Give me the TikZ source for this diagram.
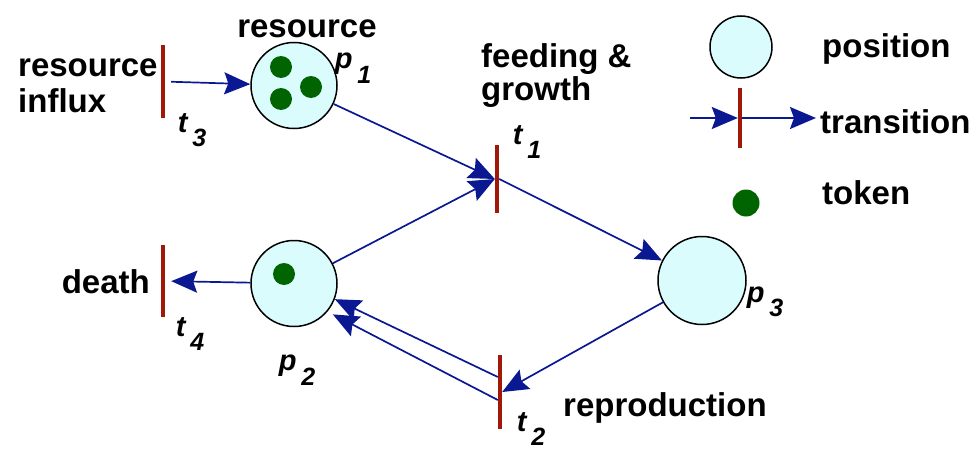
\documentclass[tikz,border=0pt]{standalone}
\usepackage{fontspec}
\setmainfont{Liberation Sans}
\usetikzlibrary{arrows.meta,calc}
\definecolor{arcblue}{RGB}{10,24,145}
\definecolor{barred}{RGB}{160,24,8}
\definecolor{placefill}{RGB}{218,252,252}
\definecolor{tokengreen}{RGB}{0,100,0}
\tikzset{
 place/.style={circle,draw=black,line width=1.5pt,fill=placefill,minimum size=86pt,inner sep=0pt},
 trans/.style={rectangle,fill=barred,minimum width=4pt,minimum height=72pt,inner sep=0pt},
 tok/.style={circle,fill=tokengreen,minimum size=22pt,inner sep=0pt},
 arc/.style={draw=arcblue,line width=1.7pt,-{Stealth[length=26pt,width=22pt,inset=4pt]}},
 lbl/.style={font=\fontsize{33}{36}\selectfont\bfseries,inner sep=0pt},
 sym/.style={font=\fontsize{29}{30}\selectfont\bfseries\itshape,inner sep=0pt},
}
\newcommand{\lab}[2]{#1\,\raisebox{-0.5em}{\fontsize{25}{25}\selectfont #2}}
\begin{document}
\begin{tikzpicture}[x=1pt,y=-1pt]
\useasboundingbox (0,0) rectangle (980,452);
% places and transitions
\node[trans,minimum height=73pt] (t3) at (163,81.5) {};
\node[place] (p1) at (294,85.5) {};
\node[tok] (k1) at (281,67) {};
\node[tok] (k2) at (281,99) {};
\node[tok] (k3) at (311,87) {};
\node[trans,minimum height=68pt] (t1) at (497,179) {};
\node[place] (p2) at (294,283.5) {};
\node[tok] (k4) at (284,274) {};
\node[trans] (t4) at (163,281) {};
\node[place,minimum size=88pt] (p3) at (702,280.5) {};
\node[trans,minimum height=74pt] (t2) at (500,392) {};
% arcs
\draw[arc,shorten <=6pt] (t3) -- (p1);
\draw[arc] (p1) -- (t1.west);
\draw[arc] (p2) -- (t1.west);
\draw[arc] (t1.east) -- (p3);
\draw[arc] (p3) -- (t2.east);
\draw[arc] ([yshift=15pt]t2.west) -- (p2.-21);
\draw[arc,shorten >=6pt] ([yshift=-8pt]t2.west) -- (p2.-40);
\draw[arc,shorten >=6pt] (p2) -- (t4);
% labels
\node[lbl,anchor=base] (n1) at (307,38) {resource};
\node[lbl,anchor=base west] (n2) at (18,77) {resource};
\node[lbl,anchor=base west] (n3) at (18,112) {influx};
\node[lbl,anchor=base west] (n4) at (481,68) {feeding \&};
\node[lbl,anchor=base west] (n5) at (481,100) {growth};
\node[lbl,anchor=base east] (n6) at (150,293) {death};
\node[lbl,anchor=base west] (n7) at (563,416) {reproduction};
\node[sym] (lp1) at (353,68) {\lab{p}{1}};
\node[sym] (lt3) at (192,130) {\lab{t}{3}};
\node[sym] (lt1) at (527,142) {\lab{t}{1}};
\node[sym] (lp2) at (297,370) {\lab{p}{2}};
\node[sym] (lt4) at (190,334) {\lab{t}{4}};
\node[sym] (lp3) at (765,302) {\lab{p}{3}};
\node[sym] (lt2) at (531,429) {\lab{t}{2}};
% legend
\node[place,minimum size=62pt] (lpl) at (741,47) {};
\node[lbl,anchor=base west] (lg1) at (822,58) {position};
\node[trans,minimum height=60pt] (ltr) at (740,118) {};
\coordinate (lin) at (690,118);
\coordinate (lout) at (816,118);
\draw[arc] (lin) -- (ltr.west);
\draw[arc] (ltr.east) -- (lout);
\node[lbl,anchor=base west] (lg2) at (820,133) {transition};
\node[tok,minimum size=27pt] (lk) at (746,203) {};
\node[lbl,anchor=base west] (lg3) at (822,204) {token};
\end{tikzpicture}
\end{document}
